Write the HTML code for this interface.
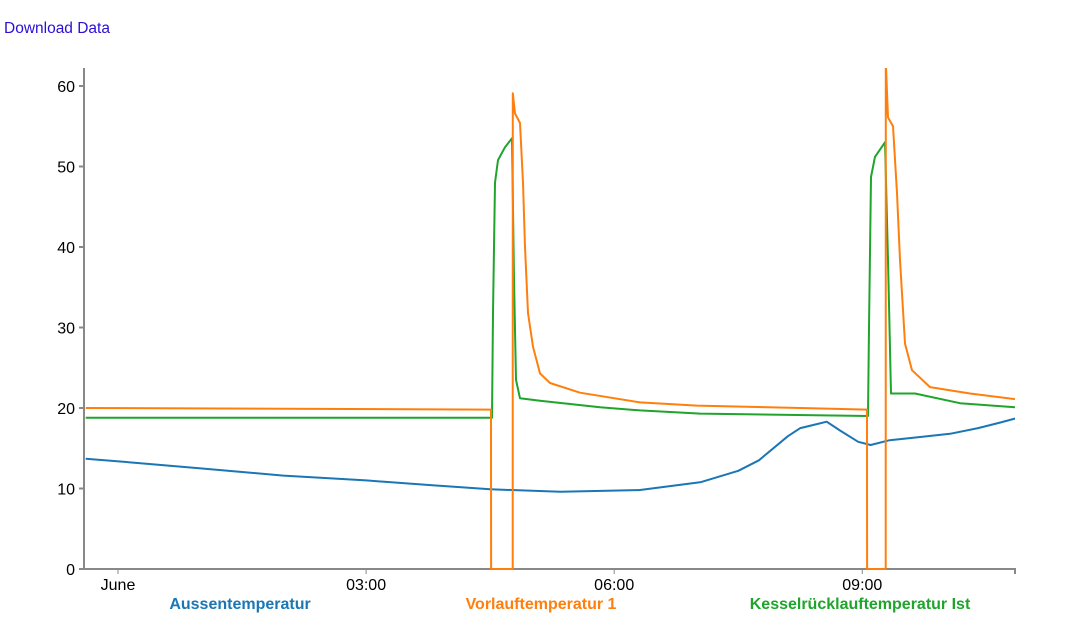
<!DOCTYPE html>
<html><head><meta charset="utf-8"><style>
body{margin:0;background:#fff;font-family:"Liberation Sans",Arial,sans-serif;}
#wrap{position:relative;width:1071px;height:617px;overflow:hidden}
a{position:absolute;left:4px;top:20px;font-size:15.5px;color:#2a0fd6;text-decoration:none}
svg{position:absolute;left:0;top:0}
</style></head><body><div id="wrap">
<a href="#">Download Data</a>
<svg id="c" width="1071" height="617"></svg>
</div>
<script>
const yTicks=[0,10,20,30,40,50,60];
const xTickHours=[0,3,6,9];
const xTickLabels=["June","03:00","06:00","09:00"];
const seriesNames=["Aussentemperatur","Vorlauftemperatur 1","Kesselrücklauftemperatur Ist"];
const seriesColors=["#1a76b5","#ff7f0e","#1fa42c"];
const aussenH=[-0.39,0.2,1,2,3,3.8,4.5,5.35,6.3,7.05,7.5,7.75,8.1,8.25,8.45,8.57,8.73,8.95,9.1,9.33,9.7,10.06,10.4,10.67,10.85];
const aussenV=[13.7,13.2,12.5,11.6,11,10.4,9.9,9.6,9.8,10.8,12.2,13.5,16.5,17.5,18,18.3,17.2,15.8,15.4,16,16.4,16.8,17.5,18.2,18.7];
const vorlaufH=[-0.39,4.51,4.511,4.773,4.774,4.80,4.861,4.897,4.921,4.958,5.018,5.103,5.224,5.586,6.312,7.0,8.25,9.057,9.058,9.283,9.284,9.311,9.371,9.42,9.456,9.516,9.601,9.819,10.302,10.846];
const vorlaufV=[20,19.8,0,0,59.1,56.6,55.4,48,40,31.8,27.6,24.3,23.1,21.9,20.7,20.3,20,19.8,0,0,63,56.1,55,46.7,38.4,28,24.7,22.6,21.8,21.1];
const kesselH=[-0.39,4.522,4.534,4.559,4.595,4.68,4.764,4.788,4.813,4.861,5.103,5.828,6.312,7.04,9.069,9.081,9.105,9.154,9.275,9.311,9.347,9.637,10.181,10.846];
const kesselV=[18.8,18.8,31.8,48,50.8,52.4,53.5,36,23.5,21.2,20.9,20.1,19.7,19.3,19,30,48.7,51.2,53,38.4,21.8,21.8,20.6,20.1];
const X0=84,X1=1015,Y0=569,YT=68;
const x=h=>118+h*82.7;
const y=v=>569-v*8.05;
const s=document.getElementById('c');const NS="http://www.w3.org/2000/svg";
function mk(t,a,p){const e=document.createElementNS(NS,t);for(const k in a)e.setAttribute(k,a[k]);(p||s).appendChild(e);return e;}
let e=mk('path',{d:`M${X0},${YT}V${Y0}H${X1}V${Y0+5}`,stroke:'#888',fill:'none','stroke-width':2});


yTicks.forEach(v=>{
 mk('line',{x1:X0-5,x2:X0,y1:y(v),y2:y(v),stroke:'#888','stroke-width':2});
 const t=mk('text',{x:X0-9,y:y(v)+6,'text-anchor':'end','font-size':16,fill:'#000'});t.textContent=v;
 
 
});
xTickHours.forEach((h,i)=>{
 mk('line',{x1:x(h),x2:x(h),y1:Y0,y2:Y0+5,stroke:'#888','stroke-width':1});
 const t=mk('text',{x:x(h),y:Y0+21,'text-anchor':'middle','font-size':16,fill:'#000'});t.textContent=xTickLabels[i];
 
 
});
const clip=mk('clipPath',{id:'cp'});mk('rect',{x:X0,y:YT,width:X1-X0,height:Y0-YT+2},clip);
const data=[[aussenH,aussenV],[vorlaufH,vorlaufV],[kesselH,kesselV]];
const order=[0,2,1];
order.forEach(i=>{
 const [H,V]=data[i];
 const d=H.map((h,j)=>(j?'L':'M')+x(h).toFixed(1)+','+y(V[j]).toFixed(1)).join('');
 const p=mk('path',{d,stroke:seriesColors[i],fill:'none','stroke-width':2,'clip-path':'url(#cp)','stroke-linejoin':'round'});
 
 
});
const lx=[240,541,860];
seriesNames.forEach((n,i)=>{
 const t=mk('text',{x:lx[i],y:609,'text-anchor':'middle','font-size':16,'font-weight':'bold',fill:seriesColors[i]});t.textContent=n;
 
 
});
</script></body></html>
